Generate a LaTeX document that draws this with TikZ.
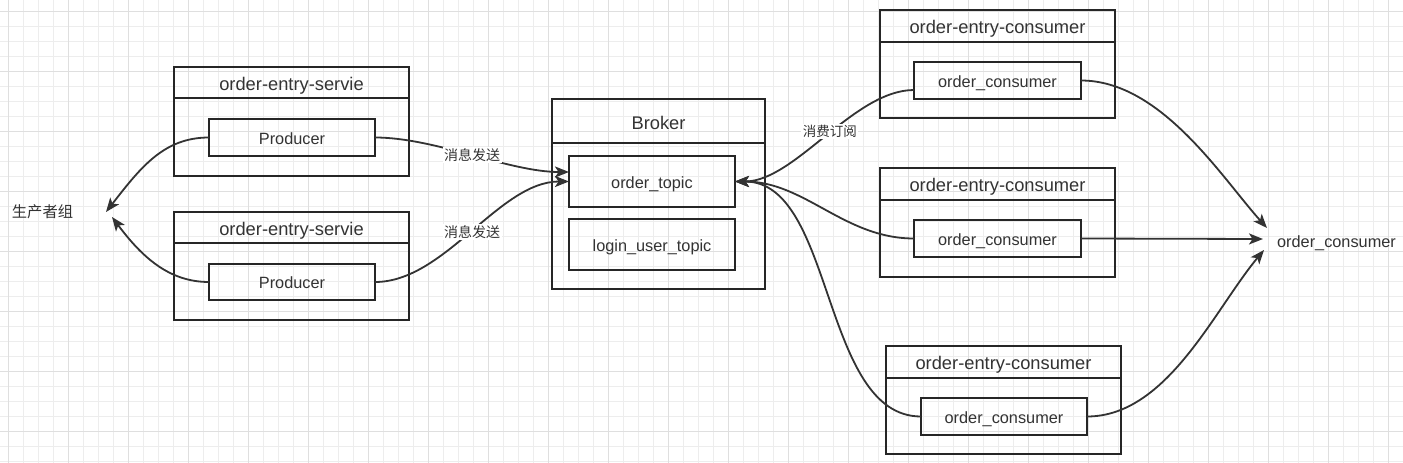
\documentclass[tikz,border=0pt]{standalone}
\usepackage{fontspec}
\setmainfont{Liberation Sans}
\newfontfamily\cjk{Noto Sans CJK SC}
\usetikzlibrary{arrows.meta}
\definecolor{ink}{HTML}{262626}
\definecolor{txt}{HTML}{333333}
\definecolor{gridminor}{HTML}{EDEDED}
\definecolor{gridmajor}{HTML}{DFDFDF}
\begin{document}
\begin{tikzpicture}[x=1pt,y=-1pt,
  box/.style={draw=ink, line width=2pt, inner sep=0pt, outer sep=0pt},
  inbox/.style={box, font=\fontsize{16.3}{18}\selectfont, text=txt, text height=13pt, text depth=0pt},
  head/.style={font=\fontsize{18.3}{20}\selectfont, text=txt, inner sep=0pt, text height=14.6pt, text depth=0pt},
  sepline/.style={draw=ink, line width=2pt},
  conn/.style={draw=txt, line width=1.8pt},
  arr/.style={conn, -{Stealth[length=14pt,width=11pt,inset=3.5pt]}},
  lbl/.style={fill=white, inner sep=1.5pt, font=\cjk\fontsize{14}{16}\selectfont, text=txt},
  plain/.style={inner sep=0pt, text=txt}
]
\useasboundingbox (0,0) rectangle (1403,463);
\fill[white] (0,0) rectangle (1403,463);
% grid
\foreach \x in {8,23,...,1403} \draw[gridminor, line width=0.8pt] (\x,0) -- (\x,463);
\foreach \y in {11.7,26.7,...,463} \draw[gridminor, line width=0.8pt] (0,\y) -- (1403,\y);
\foreach \x in {8,68,...,1403} \draw[gridmajor, line width=0.8pt] (\x,0) -- (\x,463);
\foreach \y in {11.7,71.7,...,463} \draw[gridmajor, line width=0.8pt] (0,\y) -- (1403,\y);

% producer group label
\node[plain, font=\cjk\fontsize{15.3}{17}\selectfont] (pg) at (42.5,212) {生产者组};
\coordinate (pg1) at (106,212);
\coordinate (pg2) at (112,217);

% producer services
\node[box, minimum width=235pt, minimum height=109pt] (svc1) at (291.5,121.5) {};
\draw[sepline] ([yshift=-31pt]svc1.north west) -- ([yshift=-31pt]svc1.north east);
\node[head] (svc1h) at (291.5,83) {order-entry-servie};
\node[inbox, minimum width=166pt, minimum height=37pt] (prod1) at (292,137.5) {Producer};

\node[box, minimum width=235pt, minimum height=108pt] (svc2) at (291.5,266) {};
\draw[sepline] ([yshift=-31pt]svc2.north west) -- ([yshift=-31pt]svc2.north east);
\node[head] (svc2h) at (291.5,228) {order-entry-servie};
\node[inbox, minimum width=166pt, minimum height=36pt] (prod2) at (292,282) {Producer};

% broker
\node[box, minimum width=213pt, minimum height=190pt] (broker) at (658.5,194) {};
\draw[sepline] ([yshift=-44pt]broker.north west) -- ([yshift=-44pt]broker.north east);
\node[head] (brokerh) at (658.5,122) {Broker};
\node[inbox, minimum width=166pt, minimum height=51pt] (topic) at (652,181.5) {order\_topic};
\node[inbox, minimum width=166pt, minimum height=51pt] (login) at (652,244.5) {login\_user\_topic};

% consumers
\node[box, minimum width=235pt, minimum height=108pt] (cons1) at (997.5,64) {};
\draw[sepline] ([yshift=-32pt]cons1.north west) -- ([yshift=-32pt]cons1.north east);
\node[head] (cons1h) at (997.5,26.5) {order-entry-consumer};
\node[inbox, minimum width=167pt, minimum height=37pt] (c1in) at (997.5,80.5) {order\_consumer};

\node[box, minimum width=235pt, minimum height=109pt] (cons2) at (997.5,222.5) {};
\draw[sepline] ([yshift=-32pt]cons2.north west) -- ([yshift=-32pt]cons2.north east);
\node[head] (cons2h) at (997.5,184.5) {order-entry-consumer};
\node[inbox, minimum width=167pt, minimum height=37pt] (c2in) at (997.5,238.5) {order\_consumer};

\node[box, minimum width=235pt, minimum height=108pt] (cons3) at (1003.5,400) {};
\draw[sepline] ([yshift=-32pt]cons3.north west) -- ([yshift=-32pt]cons3.north east);
\node[head] (cons3h) at (1003.5,362.5) {order-entry-consumer};
\node[inbox, minimum width=166pt, minimum height=37pt] (c3in) at (1004,416.5) {order\_consumer};

% target
\node[plain, font=\fontsize{16.3}{18}\selectfont, text height=13pt, text depth=0pt] (tgt) at (1336.5,240.5) {order\_consumer};
\coordinate (tg1) at (1267,228);
\coordinate (tg2) at (1263,239);
\coordinate (tg3) at (1264,250);

% connectors: producers to group
\draw[arr] (prod1.west) .. controls +(-45,0) and +(35,-45) .. (pg1);
\draw[arr] (prod2.west) .. controls +(-40,0) and +(30,40) .. (pg2);

% producers to topic
\coordinate (tin1) at ([yshift=9.5pt]topic.west);
\draw[arr] (prod1.east) .. controls +(60,0) and +(-60,0) .. (tin1)
  node[lbl, pos=0.5] {消息发送};
\draw[arr] (prod2.east) .. controls +(70,0) and +(-70,0) .. (topic.west)
  node[lbl, pos=0.5] {消息发送};

% consumers subscribe to topic
\coordinate (c1w) at ([yshift=-9.5pt]c1in.west);
\draw[arr] (c1w) .. controls +(-60,0) and +(60,0) .. (topic.east)
  node[lbl, pos=0.47, font=\cjk\fontsize{13.5}{15}\selectfont] {消费订阅};
\draw[arr] (c2in.west) .. controls +(-70,0) and +(70,0) .. (topic.east);
\draw[arr] (c3in.west) .. controls +(-100,0) and +(100,0) .. (topic.east);

% consumers to target
\draw[arr] (c1in.east) .. controls +(80,0) and +(-45,-50) .. (tg1);
\draw[arr] (c2in.east) -- (tg2);
\draw[arr] (c3in.east) .. controls +(80,0) and +(-50,60) .. (tg3);
\end{tikzpicture}
\end{document}
